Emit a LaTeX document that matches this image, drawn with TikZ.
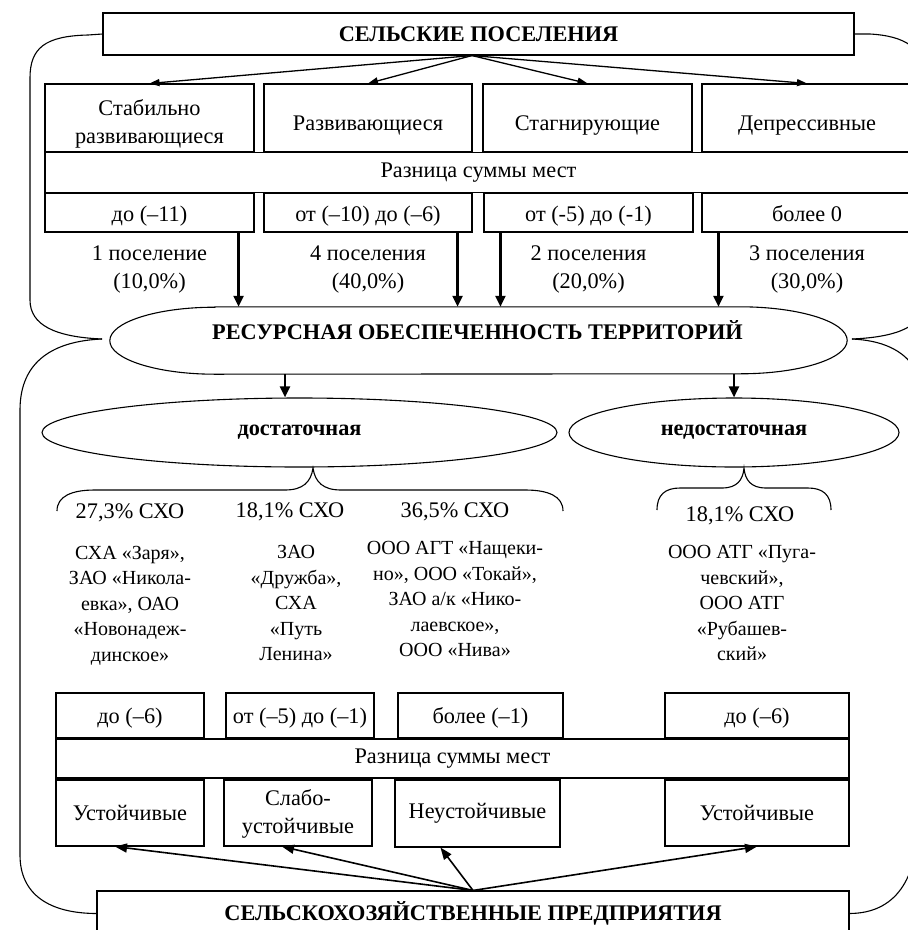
\documentclass[tikz,border=0pt]{standalone}
\usepackage{fontspec}
\setmainfont{Liberation Serif}
\usetikzlibrary{positioning}
\usetikzlibrary{shapes.geometric}
\usetikzlibrary{arrows.meta}
\tikzset{box/.style={draw, line width=1.1pt, inner sep=0pt, align=center}}
\tikzset{oval/.style={draw, ellipse, line width=1.1pt, inner sep=0pt}}
\tikzset{txt/.style={align=center}}
\tikzset{lst/.style={align=center, font=\fontsize{20}{25.5}\selectfont}}
\tikzset{fan/.style={-{Triangle[length=10pt,width=7pt]}, line width=1.3pt}}
\tikzset{fanb/.style={-{Triangle[length=12pt,width=9pt]}, line width=1.6pt}}
\tikzset{thickarr/.style={-{Triangle[length=11pt,width=10pt]}, line width=2.4pt}}
\tikzset{curl/.style={line width=1.1pt}}

\begin{document}
\begin{tikzpicture}[x=1pt, y=-1pt, font=\fontsize{22.3}{28}\selectfont]
\useasboundingbox (0,0) rectangle (908,930);
\clip (0,0) rectangle (908,930);
% settlements
\node[box, minimum width=751pt, minimum height=42pt] (top) at (478.5,34) {\bfseries СЕЛЬСКИЕ ПОСЕЛЕНИЯ};
\node[box, minimum width=209pt, minimum height=68pt, text height=55pt, text depth=5pt] (s1) at (149.5,118) {Стабильно\\развивающиеся};
\node[box, minimum width=208pt, minimum height=68pt, text height=24pt, text depth=0pt] (s2) at (368,118) {Развивающиеся};
\node[box, minimum width=209pt, minimum height=68pt, text height=24pt, text depth=0pt] (s3) at (587.5,118) {Стагнирующие};
\node[box, minimum width=210pt, minimum height=68pt, text height=24pt, text depth=0pt] (s4) at (807,118) {Депрессивные};
\node[box, minimum width=867pt, minimum height=40pt] (band1) at (478.5,172.5) {Разница суммы мест};
\node[box, minimum width=209pt, minimum height=39pt, text height=17pt, text depth=0pt] (d1) at (149.5,212.5) {до (–11)};
\node[box, minimum width=208pt, minimum height=39pt, text height=17pt, text depth=0pt] (d2) at (368,212.5) {от (–10) до (–6)};
\node[box, minimum width=209pt, minimum height=39pt, text height=17pt, text depth=0pt] (d3) at (588.5,212.5) {от (-5) до (-1)};
\node[box, minimum width=210pt, minimum height=39pt, text height=17pt, text depth=0pt] (d4) at (807,212.5) {более 0};
\node[txt, below=10pt of d1] (n1) {1 поселение\\(10,0\%)};
\node[txt, below=10pt of d2] (n2) {4 поселения\\(40,0\%)};
\node[txt, below=10pt of d3] (n3) {2 поселения\\(20,0\%)};
\node[txt, below=10pt of d4] (n4) {3 поселения\\(30,0\%)};
\coordinate (fan) at ([xshift=-6.5pt]top.south);
\foreach \s in {s1,s2,s3,s4}
  \draw[fan] (fan) -- (\s.north);
% resources
\node[minimum width=525pt, minimum height=67pt, inner sep=0pt] (res) at (477.5,340.5) {};
\draw[curl] (res.north west) -- (res.north east)
  arc[start angle=90, end angle=-90, x radius=107pt, y radius=33.5pt]
  -- (res.south west)
  arc[start angle=270, end angle=90, x radius=105pt, y radius=33.5pt] -- cycle;
\node (restxt) at (477.5,330) {\bfseries РЕСУРСНАЯ ОБЕСПЕЧЕННОСТЬ ТЕРРИТОРИЙ};
\coordinate (a1) at ([xshift=-16pt]d1.south east);
\coordinate (a2) at ([xshift=-15pt]d2.south east);
\coordinate (a3) at ([xshift=17pt]d3.south west);
\coordinate (a4) at ([xshift=17pt]d4.south west);
\foreach \a in {a1,a2,a3,a4}
  \draw[thickarr] (\a) -- (\a |- res.north);
\node[oval, minimum width=515pt, minimum height=69pt] (dost) at (299.5,432.5) {\bfseries достаточная};
\node[oval, minimum width=330pt, minimum height=69pt] (nedost) at (734,432.5) {\bfseries недостаточная};
\coordinate (e1) at ([xshift=-14.5pt]dost.north);
\draw[thickarr] (e1 |- res.south) -- (e1);
\draw[thickarr] (nedost.north |- res.south) -- (nedost.north);
% braces
\draw[curl] (top.west) -- (88,35) .. controls (45,36) and (30,48) .. (30,78) -- (30,300)
  .. controls (30,325) and (55,337) .. (102,339);
\draw[curl] (102,339) .. controls (55,341) and (20,360) .. (20,410) -- (20,855)
  .. controls (20,895) and (50,913.5) .. (97,913.5);
\draw[curl] (top.east) -- (870,34) .. controls (905,36) and (925,48) .. (925,78) -- (925,300)
  .. controls (925,325) and (900,337) .. (852,339);
\draw[curl] (852,339) .. controls (895,341) and (925,360) .. (925,410) -- (918,820)
  .. controls (918,880) and (895,913.5) .. (849,913.5);
\draw[curl] (57,511) .. controls (57,496) and (72,490) .. (95,490) -- (285,490)
  .. controls (303,490) and (311,482) .. (313,468)
  .. controls (315,482) and (323,490) .. (341,490) -- (525,490)
  .. controls (548,490) and (563,496) .. (563,511);
\draw[curl] (657,510) .. controls (657,495) and (665,488) .. (680,488) -- (722,488)
  .. controls (737,488) and (743,480) .. (744,468)
  .. controls (745,480) and (751,488) .. (766,488) -- (808,488)
  .. controls (823,488) and (831,495) .. (831,510);
% enterprises
\node (p1) at (130,513) {27,3\% СХО};
\node (p2) at (290,512) {18,1\% СХО};
\node (p3) at (455,512) {36,5\% СХО};
\node (p4) at (740,516) {18,1\% СХО};
\node[lst] (l1) at (130,605.5) {СХА «Заря»,\\ЗАО «Никола-\\евка», ОАО\\«Новонадеж-\\динское»};
\node[lst] (l2) at (296,603) {ЗАО\\«Дружба»,\\СХА\\«Путь\\Ленина»};
\node[lst] (l3) at (455,599) {ООО АГТ «Нащеки-\\но», ООО «Токай»,\\ЗАО а/к «Нико-\\лаевское»,\\ООО «Нива»};
\node[lst] (l4) at (742,603) {ООО АТГ «Пуга-\\чевский»,\\ООО АТГ\\«Рубашев-\\ский»};
\node[box, minimum width=148pt, minimum height=45pt, text height=15pt, text depth=0pt] (b1) at (130,715.5) {до (–6)};
\node[box, minimum width=148pt, minimum height=45pt, text height=15pt, text depth=0pt] (b2) at (300,715.5) {от (–5) до (–1)};
\node[box, minimum width=165pt, minimum height=45pt, text height=15pt, text depth=0pt] (b3) at (480.5,715.5) {более (–1)};
\node[box, minimum width=184pt, minimum height=45pt, text height=15pt, text depth=0pt] (b4) at (757,715.5) {до (–6)};
\node[box, minimum width=793pt, minimum height=39pt] (band2) at (452.5,758.5) {Разница суммы мест};
\node[box, minimum width=148pt, minimum height=66pt] (u1) at (130,813) {Устойчивые};
\node[box, minimum width=148pt, minimum height=66pt, text height=45pt, text depth=5pt] (u2) at (298,813) {Слабо-\\устойчивые};
\node[box, minimum width=165pt, minimum height=67pt] (u3) at (477.5,813.5) {Неустойчивые};
\node[box, minimum width=184pt, minimum height=66pt] (u4) at (757,813) {Устойчивые};
\node[box, minimum width=752pt, minimum height=45pt] (sel) at (473,913.5) {\bfseries СЕЛЬСКОХОЗЯЙСТВЕННЫЕ ПРЕДПРИЯТИЯ};
\draw[fanb] (sel.north) -- ([xshift=-15pt]u1.south);
\draw[fanb] (sel.north) -- ([xshift=-16pt]u2.south);
\draw[fanb] (sel.north) -- ([xshift=-37pt]u3.south);
\draw[fanb] (sel.north) -- (u4.south);
\end{tikzpicture}
\end{document}
